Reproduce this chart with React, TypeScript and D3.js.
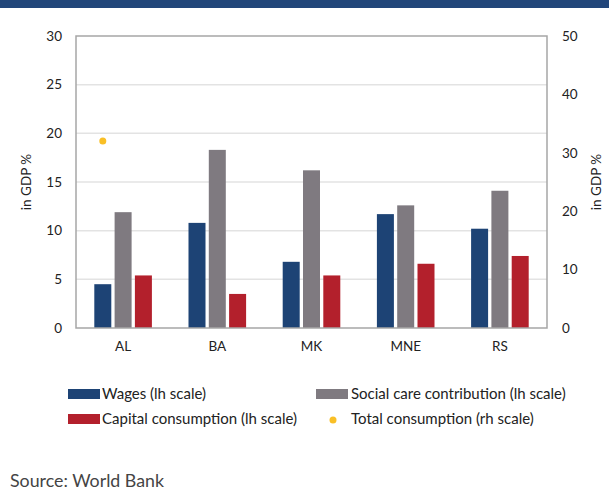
import React from "react";
import * as d3 from "d3";

const categories = ["AL", "BA", "MK", "MNE", "RS"];
const wages = [4.5, 10.8, 6.8, 11.7, 10.2];
const socialCare = [11.9, 18.3, 16.2, 12.6, 14.1];
const capitalConsumption = [5.4, 3.5, 5.4, 6.6, 7.4];
const totalConsumption: (number | null)[] = [32.0, null, null, null, null];
const leftTicks = [0, 5, 10, 15, 20, 25, 30];
const rightTicks = [0, 10, 20, 30, 40, 50];

const W = 609, H = 495;
const m = { left: 76, right: 547, top: 36, bottom: 328 };
const C = { wages: "#1d4375", social: "#7f7a80", capital: "#b3202c", total: "#f9bf26", banner: "#22467a" };
const FONT = "Lato, 'Open Sans', sans-serif";

export default function App() {
  const x = d3.scaleBand<string>().domain(categories).range([m.left, m.right]);
  const yL = d3.scaleLinear().domain([0, 30]).range([m.bottom, m.top]);
  const yR = d3.scaleLinear().domain([0, 50]).range([m.bottom, m.top]);
  const barW = 17;
  const step = 20.3;
  const series = [
    { vals: wages, color: C.wages },
    { vals: socialCare, color: C.social },
    { vals: capitalConsumption, color: C.capital },
  ];
  return (
    <svg width={W} height={H} style={{ position: "absolute", left: 0, top: 0, background: "#fff" }} fontFamily={FONT}>
      <rect x={0} y={0} width={W} height={8} fill={C.banner} />
      {leftTicks.map((t) => (
        <g key={t}>
          {t > 0 && t < 30 && <line x1={m.left} x2={m.right} y1={yL(t)} y2={yL(t)} stroke="#e3e3e3" strokeWidth={1.5} />}
          <text x={62} y={yL(t)} dy="0.35em" textAnchor="end" fontSize={13.5} fill="#222">{t}</text>
        </g>
      ))}
      {rightTicks.map((t) => (
        <text key={t} x={562} y={yR(t)} dy="0.35em" textAnchor="start" fontSize={13.5} fill="#222">{t}</text>
      ))}
      <text transform={`translate(31,${(m.top + m.bottom) / 2}) rotate(-90)`} textAnchor="middle" fontSize={13.5} fill="#222">in GDP %</text>
      <text transform={`translate(601,${(m.top + m.bottom) / 2}) rotate(-90)`} textAnchor="middle" fontSize={13.5} fill="#222">in GDP %</text>
      {categories.map((c, i) => {
        const cx = (x(c) as number) + x.bandwidth() / 2;
        return (
          <g key={c}>
            {series.map((s, j) => (
              <rect key={j} x={cx + (j - 1) * step - barW / 2} y={yL(s.vals[i])} width={barW} height={m.bottom - yL(s.vals[i])} fill={s.color} />
            ))}
            <text x={cx} y={350.5} textAnchor="middle" fontSize={13.5} fill="#222">{c}</text>
            {totalConsumption[i] != null && (
              <circle cx={cx - step} cy={yR(totalConsumption[i] as number)} r={3.5} fill={C.total} />
            )}
          </g>
        );
      })}
      <rect x={m.left} y={m.top} width={m.right - m.left} height={m.bottom - m.top} fill="none" stroke="#a6a6a6" strokeWidth={1.5} />
      <g fontSize={15} fill="#222">
        <rect x={68} y={389} width={32} height={10} fill={C.wages} />
        <text x={102} y={398.5}>Wages (lh scale)</text>
        <rect x={316} y={389} width={32} height={10} fill={C.social} />
        <text x={351} y={398.5}>Social care contribution (lh scale)</text>
        <rect x={68} y={414} width={32} height={10} fill={C.capital} />
        <text x={102} y={424}>Capital consumption (lh scale)</text>
        <circle cx={333} cy={420} r={3.5} fill={C.total} />
        <text x={351} y={424}>Total consumption (rh scale)</text>
      </g>
      <text x={10} y={487} fontSize={17.8} fill="#444">Source: World Bank</text>
    </svg>
  );
}
